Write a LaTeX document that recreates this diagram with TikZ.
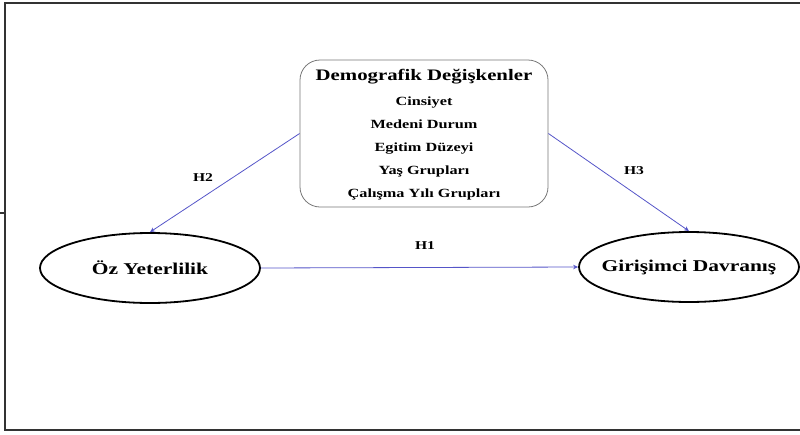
\documentclass[tikz,border=0pt]{standalone}
\usepackage{fontspec}
\setmainfont{Liberation Serif}[FakeStretch=1.3]
\usetikzlibrary{shapes.geometric,arrows.meta}
\definecolor{arrowblue}{RGB}{85,85,200}
\definecolor{boxgray}{RGB}{120,120,120}
\tikzset{
  hyp/.style={draw=arrowblue, line width=0.8pt, -{Stealth[length=5pt,width=4.5pt]}},
  oval/.style={ellipse, draw=black, line width=1.8pt, minimum width=220pt, minimum height=70pt, inner xsep=-30pt, inner ysep=0pt, font=\fontsize{16.5}{18}\selectfont\bfseries},
  demobox/.style={draw=boxgray, line width=0.8pt, rounded corners=20pt, minimum width=248pt, minimum height=147pt, inner sep=0pt},
  title/.style={anchor=base, inner sep=0pt, font=\fontsize{16}{18}\selectfont\bfseries},
  item/.style={anchor=base, inner sep=0pt, font=\fontsize{12.5}{14}\selectfont\bfseries},
  hlabel/.style={inner sep=0pt, font=\fontsize{12}{14}\selectfont\bfseries},
  frame/.style={draw=black!80, line width=2pt}
}
\begin{document}
\begin{tikzpicture}[x=1pt,y=-1pt]
\useasboundingbox (0,0) rectangle (800,434);
% outer frame (right side lies outside the picture)
\draw[frame] (830,2.5) -- (5,2.5) -- (5,430) -- (830,430);
\draw[frame] (0,213) -- (5,213);
% demographic box
\node[demobox] (box) at (424,133.5) {};
\node[title] (t0) at (424,80) {Demografik Değişkenler};
\node[item] (t1) at (424,105) {Cinsiyet};
\node[item] (t2) at (424,128) {Medeni Durum};
\node[item] (t3) at (424,151) {Egitim Düzeyi};
\node[item] (t4) at (424,174) {Yaş Grupları};
\node[item] (t5) at (424,197) {Çalışma Yılı Grupları};
% ellipses
\node[oval] (oz) at (150,268) {Öz Yeterlilik};
\node[oval] (gd) at (689,267) {Girişimci Davranış};
% arrows
\draw[hyp] (box.west) -- (oz.north);
\draw[hyp] (box.east) -- (gd.north);
\draw[hyp] (oz.east) -- (gd.west);
% labels
\node[hlabel] (h2) at (203,178) {H2};
\node[hlabel] (h3) at (634,171) {H3};
\node[hlabel] (h1) at (425,246) {H1};
\end{tikzpicture}
\end{document}
